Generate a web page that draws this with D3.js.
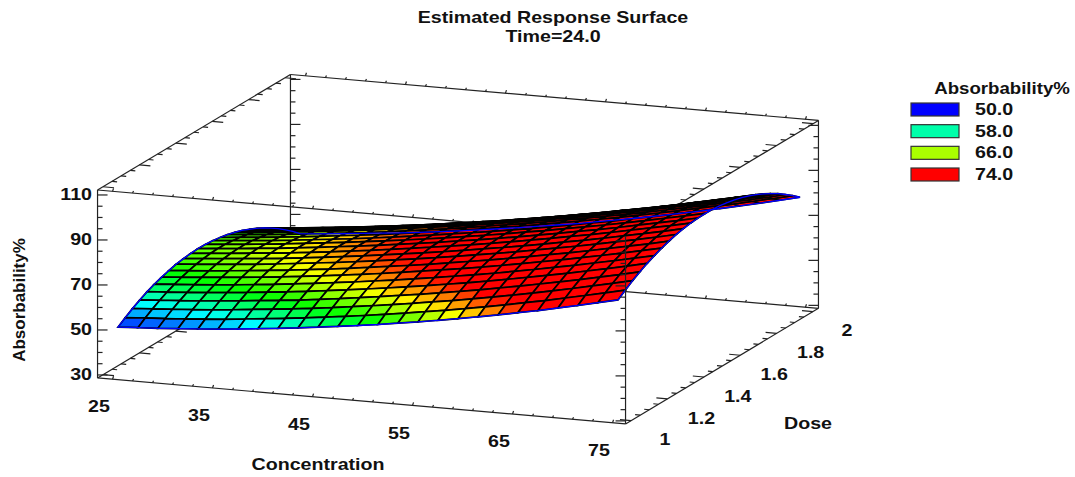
<!DOCTYPE html>
<html>
<head>
<meta charset="utf-8">
<script src="https://cdn.jsdelivr.net/npm/d3@7"></script>
<style>
  html, body { margin: 0; background: #fff; }
  svg { display: block; }
  text { font-family: "Liberation Sans", Arial, sans-serif; font-weight: bold; font-size: 16.5px; fill: #111; }
</style>
</head>
<body>
<div id="chart"></div>
<script>
const titleLines = ['Estimated Response Surface', 'Time=24.0'];
const xTitle = 'Concentration';
const yTitle = 'Dose';
const zTitle = 'Absorbability%';

const concTicks = [25, 35, 45, 55, 65, 75];
const doseTicks = [1, 1.2, 1.4, 1.6, 1.8, 2];
const doseTickLabels = ['1', '1.2', '1.4', '1.6', '1.8', '2'];
const zTicks = [30, 50, 70, 90, 110];

const legendLevels = [50, 58, 66, 74];
const legendLabels = ['50.0', '58.0', '66.0', '74.0'];
const legendColors = ['#0000ff', '#00ffaa', '#aaff00', '#ff0000'];

// box limits run a little past the labelled ranges
const concBox = [23.5, 76.3];
const doseBox = [0.97, 2.03];
const zBox = [28.67, 112.2];

const concentrations = [25, 27, 29, 31, 33, 35, 37, 39, 41, 43, 45, 47, 49, 51, 53, 55, 57, 59, 61, 63, 65, 67, 69, 71, 73, 75];
const doses = [1, 1.04, 1.08, 1.12, 1.16, 1.2, 1.24, 1.28, 1.32, 1.36, 1.4, 1.44, 1.48, 1.52, 1.56, 1.6, 1.64, 1.68, 1.72, 1.76, 1.8, 1.84, 1.88, 1.92, 1.96, 2];

// one row per dose, one column per concentration
const absorbability = [
  [50.4,50.9,51.4,52.0,52.7,53.4,54.2,55.1,56.0,57.0,58.1,59.2,60.4,61.6,63.0,64.3,65.8,67.3,68.9,70.5,72.3,74.0,75.9,77.8,79.8,81.8],
  [52.7,53.3,53.8,54.4,55.1,55.8,56.7,57.6,58.5,59.5,60.6,61.7,62.9,64.2,65.5,66.9,68.3,69.8,71.4,73.0,74.8,76.5,78.4,80.3,82.2,84.2],
  [54.8,55.4,56.0,56.6,57.3,58.1,59.0,59.9,60.8,61.8,62.9,64.1,65.3,66.6,67.9,69.3,70.7,72.2,73.8,75.4,77.1,78.9,80.7,82.6,84.5,86.5],
  [56.7,57.3,57.9,58.5,59.3,60.1,61.0,61.9,62.8,63.9,65.0,66.2,67.4,68.7,70.0,71.4,72.8,74.3,75.9,77.5,79.2,80.9,82.7,84.6,86.5,88.5],
  [58.4,59.0,59.6,60.3,61.1,61.9,62.8,63.7,64.7,65.8,66.9,68.1,69.3,70.6,71.9,73.3,74.7,76.2,77.8,79.4,81.1,82.8,84.6,86.4,88.3,90.3],
  [59.8,60.5,61.1,61.8,62.6,63.5,64.3,65.3,66.3,67.4,68.5,69.7,70.9,72.2,73.5,74.9,76.3,77.8,79.4,81.0,82.7,84.4,86.2,88.0,89.9,91.8],
  [61.0,61.7,62.4,63.2,64.0,64.8,65.7,66.7,67.7,68.8,69.9,71.1,72.4,73.7,75.0,76.4,77.8,79.3,80.9,82.5,84.1,85.9,87.6,89.4,91.3,93.2],
  [62.0,62.7,63.4,64.2,65.0,65.9,66.8,67.8,68.8,69.9,71.1,72.3,73.5,74.8,76.2,77.6,79.0,80.5,82.1,83.7,85.3,87.0,88.8,90.6,92.4,94.4],
  [62.9,63.6,64.3,65.1,65.9,66.8,67.8,68.8,69.8,70.9,72.1,73.3,74.5,75.8,77.2,78.6,80.0,81.5,83.1,84.7,86.3,88.0,89.8,91.6,93.4,95.4],
  [63.4,64.2,64.9,65.7,66.5,67.4,68.4,69.4,70.5,71.6,72.8,74.0,75.2,76.5,77.9,79.3,80.7,82.2,83.8,85.4,87.0,88.7,90.5,92.3,94.1,96.1],
  [63.8,64.6,65.3,66.2,67.0,67.9,68.9,69.9,71.0,72.1,73.3,74.5,75.8,77.1,78.4,79.8,81.3,82.8,84.4,86.0,87.6,89.3,91.1,92.9,94.7,96.6],
  [64.0,64.8,65.5,66.4,67.2,68.2,69.2,70.2,71.3,72.4,73.6,74.8,76.0,77.4,78.7,80.1,81.6,83.1,84.7,86.3,87.9,89.6,91.4,93.2,95.0,96.9],
  [63.9,64.7,65.5,66.3,67.2,68.2,69.2,70.2,71.3,72.4,73.6,74.8,76.1,77.4,78.8,80.2,81.7,83.2,84.8,86.4,88.0,89.7,91.5,93.3,95.1,97.0],
  [63.6,64.4,65.2,66.0,66.9,67.9,68.9,69.9,71.0,72.2,73.4,74.6,75.9,77.2,78.6,80.0,81.5,83.0,84.6,86.2,87.8,89.6,91.3,93.1,95.0,96.9],
  [63.1,63.9,64.7,65.6,66.5,67.5,68.5,69.5,70.6,71.8,73.0,74.2,75.5,76.9,78.3,79.7,81.2,82.7,84.3,85.9,87.5,89.3,91.0,92.8,94.7,96.6],
  [62.4,63.2,64.0,64.9,65.8,66.8,67.8,68.8,69.9,71.1,72.3,73.5,74.8,76.2,77.6,79.0,80.5,82.1,83.7,85.3,86.9,88.7,90.4,92.2,94.1,96.0],
  [61.5,62.3,63.1,64.0,64.9,65.9,66.9,68.0,69.1,70.3,71.5,72.7,74.0,75.4,76.8,78.2,79.7,81.3,82.9,84.5,86.2,87.9,89.7,91.5,93.4,95.3],
  [60.4,61.1,61.9,62.8,63.8,64.7,65.8,66.8,68.0,69.1,70.4,71.6,72.9,74.3,75.7,77.1,78.6,80.2,81.8,83.4,85.1,86.9,88.7,90.5,92.4,94.3],
  [59.0,59.8,60.6,61.5,62.5,63.4,64.5,65.5,66.7,67.8,69.1,70.3,71.6,73.0,74.4,75.9,77.4,79.0,80.6,82.2,83.9,85.7,87.5,89.3,91.2,93.2],
  [57.5,58.2,59.0,59.9,60.9,61.8,62.9,63.9,65.1,66.2,67.5,68.7,70.0,71.4,72.8,74.3,75.8,77.4,79.1,80.7,82.4,84.2,86.0,87.9,89.8,91.8],
  [55.7,56.5,57.3,58.2,59.1,60.1,61.1,62.2,63.3,64.5,65.7,67.0,68.3,69.7,71.1,72.6,74.1,75.7,77.4,79.0,80.8,82.6,84.4,86.3,88.2,90.2],
  [53.7,54.4,55.2,56.1,57.0,58.0,59.0,60.1,61.2,62.4,63.7,65.0,66.3,67.7,69.1,70.6,72.1,73.7,75.4,77.1,78.9,80.7,82.5,84.4,86.3,88.4],
  [51.5,52.2,53.0,53.9,54.8,55.8,56.8,57.9,59.0,60.2,61.5,62.8,64.1,65.5,66.9,68.4,70.0,71.6,73.3,75.0,76.8,78.6,80.4,82.3,84.3,86.4],
  [49.0,49.7,50.5,51.4,52.3,53.3,54.3,55.4,56.5,57.7,59.0,60.3,61.6,63.0,64.4,66.0,67.5,69.2,70.9,72.6,74.4,76.2,78.1,80.0,82.0,84.1],
  [46.4,47.1,47.9,48.8,49.7,50.6,51.7,52.7,53.9,55.1,56.3,57.6,59.0,60.4,61.8,63.4,64.9,66.6,68.3,70.0,71.8,73.7,75.6,77.6,79.6,81.7],
  [43.5,44.2,45.0,45.9,46.8,47.7,48.7,49.8,50.9,52.1,53.4,54.7,56.1,57.5,58.9,60.5,62.1,63.7,65.4,67.2,69.0,70.9,72.8,74.8,76.9,79.0]
];

const width = 1075;
const height = 477;
const origin = { x: 118, y: 373 };   // where conc 25, dose 1, z 30 lands
const textStretch = 1.19;

const svg = d3.select('#chart').append('svg')
  .attr('width', width)
  .attr('height', height)
  .attr('viewBox', `0 0 ${width} ${height}`);

// Oblique projection, one scale per screen direction
const concX = d3.scaleLinear().domain([25, 75]).range([0, 500]);
const concY = d3.scaleLinear().domain([25, 75]).range([0, 43.5]);
const doseX = d3.scaleLinear().domain([1, 2]).range([0, 182]);
const doseY = d3.scaleLinear().domain([1, 2]).range([0, -109]);
const zY = d3.scaleLinear().domain([30, 110]).range([0, -180]);

function project(conc, dose, z) {
  return [
    origin.x + concX(conc) + doseX(dose),
    origin.y + concY(conc) + doseY(dose) + zY(z)
  ];
}

const color = d3.scaleLinear()
  .domain(legendLevels)
  .range(legendColors)
  .interpolate(d3.interpolateHsl)
  .clamp(true);

const path = d3.line();

function addText(g, str, x, y, anchor, stretch, rotate) {
  return g.append('text')
    .attr('transform', `translate(${x},${y})${rotate ? ` rotate(${rotate})` : ''} scale(${stretch},1)`)
    .attr('text-anchor', anchor)
    .attr('dominant-baseline', 'central')
    .text(str);
}

function edge(g, a, b) {
  g.append('path')
    .attr('d', path([a, b]))
    .attr('fill', 'none')
    .attr('stroke', '#222')
    .attr('stroke-width', 1.2);
}

function tick(g, p, dx, dy) {
  edge(g, p, [p[0] + dx, p[1] + dy]);
}

function drawZAxis(g, conc, dose, dir) {
  d3.range(30, 111, 5).forEach(z => {
    const p = project(conc, dose, z);
    tick(g, p, dir * (z % 20 === 10 ? 10 : 5), 0);
  });
}

function drawConcAxis(g, dose, z) {
  d3.range(25, 76, 2).forEach(c => {
    const p = project(c, dose, z);
    tick(g, p, 1, (c - 25) % 10 === 0 ? -3 : -2);
  });
}

function drawDoseAxis(g, conc, z, dir) {
  d3.range(0, 21).forEach(i => {
    const p = project(conc, 1 + i * 0.05, z);
    tick(g, p, dir * (i % 4 === 0 ? 11 : 5), dir * (i % 4 === 0 ? 1 : 0.5));
  });
}

// Box behind the surface
const back = svg.append('g').attr('class', 'box-back');
const [c0, c1] = concBox;
const [d0, d1] = doseBox;
const [z0, z1] = zBox;

[
  [[c0, d0, z0], [c0, d0, z1]],
  [[c0, d0, z0], [c1, d0, z0]],
  [[c0, d0, z1], [c1, d0, z1]],
  [[c0, d0, z0], [c0, d1, z0]],
  [[c0, d0, z1], [c0, d1, z1]],
  [[c0, d1, z0], [c0, d1, z1]],
  [[c0, d1, z1], [c1, d1, z1]],
  [[c0, d1, z0], [c1, d1, z0]],
  [[c1, d0, z0], [c1, d1, z0]],
  [[c1, d0, z1], [c1, d1, z1]],
  [[c1, d1, z0], [c1, d1, z1]]
].forEach(([a, b]) => edge(back, project(...a), project(...b)));

drawZAxis(back, c0, d0, 1);
drawZAxis(back, c0, d1, 1);
drawZAxis(back, c1, d1, -1);
drawConcAxis(back, d0, z0);
drawConcAxis(back, d0, z1);
drawConcAxis(back, d1, z0);
drawConcAxis(back, d1, z1);
drawDoseAxis(back, c0, z0, 1);
drawDoseAxis(back, c0, z1, 1);
drawDoseAxis(back, c1, z0, -1);
drawDoseAxis(back, c1, z1, -1);

// Surface, painted from the far dose row to the near one
const surface = svg.append('g').attr('class', 'surface');
for (let j = doses.length - 2; j >= 0; j--) {
  for (let k = 0; k < concentrations.length - 1; k++) {
    const corners = [[k, j], [k + 1, j], [k + 1, j + 1], [k, j + 1]];
    const pts = corners.map(([a, b]) => project(concentrations[a], doses[b], absorbability[b][a]));
    surface.append('path')
      .attr('d', path(pts) + 'Z')
      .attr('fill', color(d3.mean(corners, ([a, b]) => absorbability[b][a])))
      .attr('stroke', '#000')
      .attr('stroke-width', 1.7);
  }
}

// Blue rim around the surface
const last = doses.length - 1;
const rim = [
  ...concentrations.map((c, k) => project(c, doses[0], absorbability[0][k])),
  ...doses.map((d, j) => project(concentrations[concentrations.length - 1], d, absorbability[j][concentrations.length - 1])),
  ...concentrations.map((c, k) => project(c, doses[last], absorbability[last][k])).reverse(),
  ...doses.map((d, j) => project(concentrations[0], d, absorbability[j][0])).reverse()
];
surface.append('path')
  .attr('d', path(rim) + 'Z')
  .attr('fill', 'none')
  .attr('stroke', '#0000ff')
  .attr('stroke-width', 1.3);

// Near vertical edge stays on top
const front = svg.append('g').attr('class', 'box-front');
edge(front, project(c1, d0, z0), project(c1, d0, z1));
drawZAxis(front, c1, d0, -1);

// Labels
const labels = svg.append('g').attr('class', 'labels');
addText(labels, titleLines[0], 553, 17.5, 'middle', textStretch);
addText(labels, titleLines[1], 553, 36.5, 'middle', textStretch);

zTicks.forEach(z => {
  const p = project(c0, d0, z);
  addText(labels, z, 92, p[1], 'end', textStretch);
});
concTicks.forEach(c => {
  const p = project(c, 1, 30);
  addText(labels, c, p[0] - 19, p[1] + 34, 'middle', textStretch);
});
doseTicks.forEach((d, i) => {
  const p = project(75, d, 30);
  addText(labels, doseTickLabels[i], p[0] + 47, p[1] + 23.5, 'middle', textStretch);
});

addText(labels, xTitle, 318, 465, 'middle', textStretch);
addText(labels, yTitle, 808, 424, 'middle', textStretch);
addText(labels, zTitle, 20, 300, 'middle', 1.03, -90);

// Legend
const legend = svg.append('g').attr('class', 'legend');
const legendY = d3.scalePoint().domain(legendLabels).range([109.5, 174.5]);
addText(legend, zTitle, 1002, 88, 'middle', 1.13);
legendLabels.forEach((label, i) => {
  legend.append('rect')
    .attr('x', 911)
    .attr('y', legendY(label) - 6.5)
    .attr('width', 48)
    .attr('height', 13)
    .attr('fill', legendColors[i])
    .attr('stroke', '#333')
    .attr('stroke-width', 1.2);
  addText(legend, label, 975, legendY(label), 'start', textStretch);
});
</script>
</body>
</html>
